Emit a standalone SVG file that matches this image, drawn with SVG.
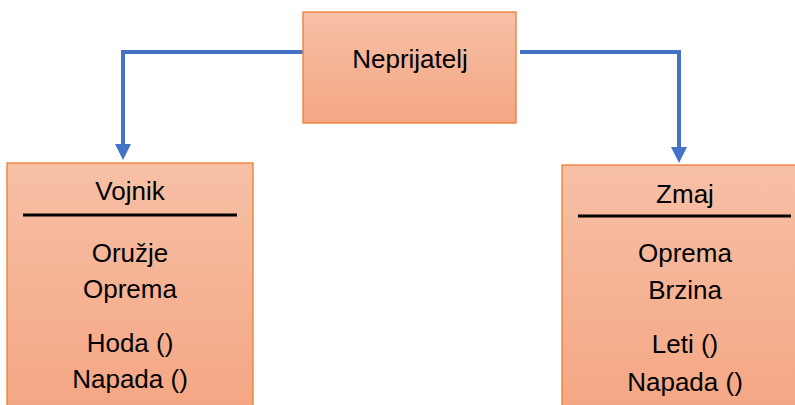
<svg xmlns="http://www.w3.org/2000/svg" width="795" height="405" viewBox="0 0 795 405">
<defs>
<linearGradient id="g" x1="0" y1="0" x2="0" y2="1">
<stop offset="0" stop-color="#F7C0A6"/>
<stop offset="1" stop-color="#F4A683"/>
</linearGradient>
<marker id="arr" viewBox="0 0 16 16" refX="0" refY="8" markerUnits="userSpaceOnUse" markerWidth="16" markerHeight="16" orient="auto">
<path d="M0,0 L16,8 L0,16 Z" fill="#4472C4"/>
</marker>
<style>
.box{fill:url(#g);stroke:#ED7D31;stroke-width:1.3}
.t{font-family:"Liberation Sans",Arial,sans-serif;font-size:26px;fill:#000;text-anchor:middle}
.sep{stroke:#000;stroke-width:3}
.conn{fill:none;stroke:#4472C4;stroke-width:4}
</style>
</defs>
<rect width="795" height="405" fill="#fff"/>
<g id="connectors">
<path class="conn" d="M303,52 H123 V144" marker-end="url(#arr)"/>
<path class="conn" d="M520,52 H679 V147" marker-end="url(#arr)"/>
</g>
<g id="neprijatelj">
<rect class="box" x="303" y="12" width="213" height="111"/>
<text class="t" x="410" y="68">Neprijatelj</text>
</g>
<g id="vojnik">
<rect class="box" x="7" y="163" width="246" height="250"/>
<text class="t" x="130" y="200">Vojnik</text>
<line class="sep" x1="23" y1="215" x2="237" y2="215"/>
<text class="t" x="130" y="262">Oružje</text>
<text class="t" x="130" y="298">Oprema</text>
<text class="t" x="130" y="352">Hoda ()</text>
<text class="t" x="130" y="388">Napada ()</text>
</g>
<g id="zmaj">
<rect class="box" x="562" y="165" width="246" height="250"/>
<text class="t" x="685" y="203">Zmaj</text>
<line class="sep" x1="578" y1="216" x2="791" y2="216"/>
<text class="t" x="685" y="262">Oprema</text>
<text class="t" x="685" y="299">Brzina</text>
<text class="t" x="685" y="353">Leti ()</text>
<text class="t" x="685" y="391">Napada ()</text>
</g>
</svg>
